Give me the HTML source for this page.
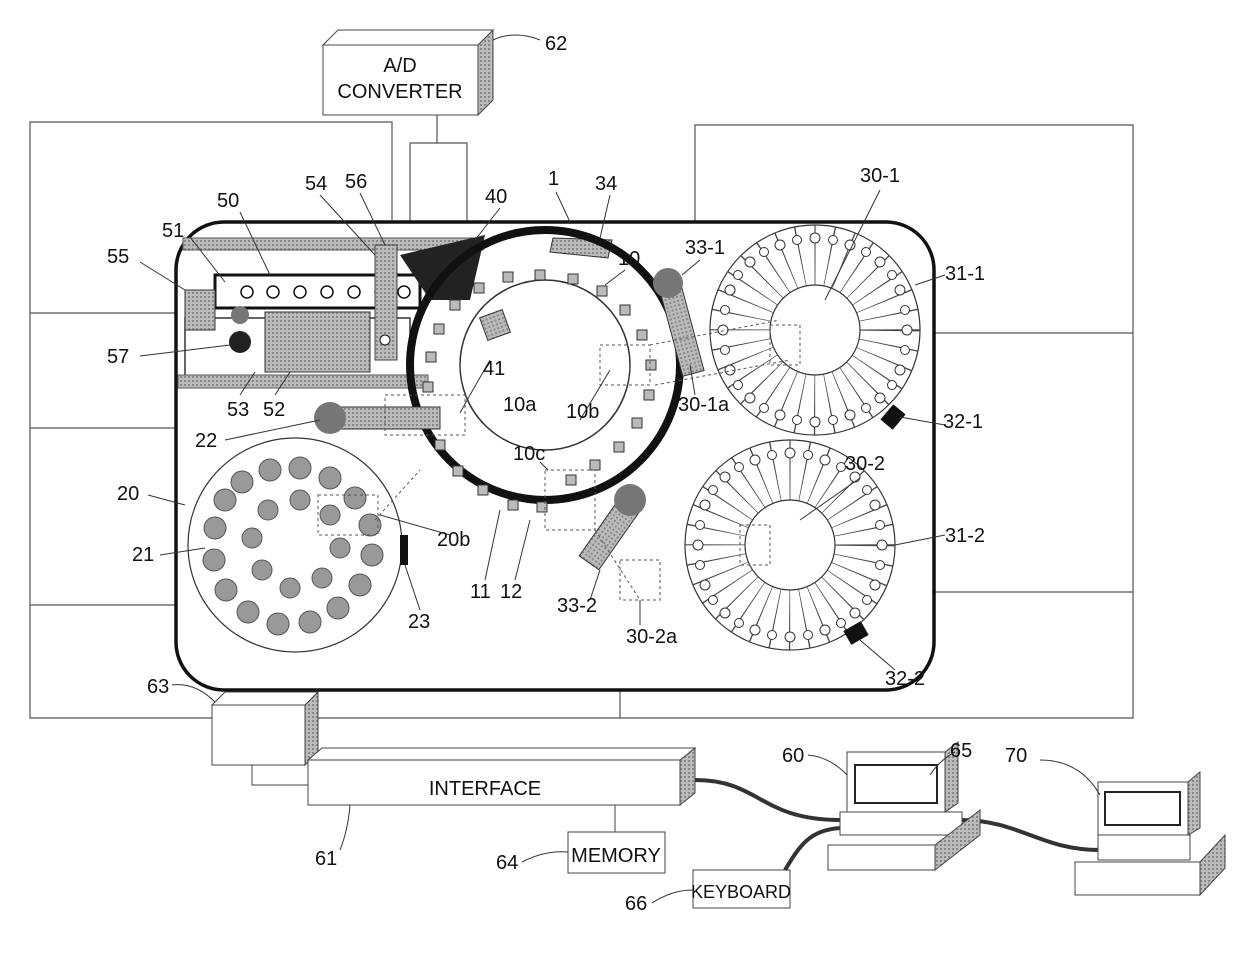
<!DOCTYPE html>
<html><head><meta charset="utf-8"><style>
body{margin:0;background:#fff}
svg{display:block}
text{font-family:"Liberation Sans",sans-serif;font-size:20px;fill:#111}
</style></head><body>
<svg width="1240" height="963" viewBox="0 0 1240 963" xmlns="http://www.w3.org/2000/svg">
<defs>
<pattern id="g" width="4" height="4" patternUnits="userSpaceOnUse"><rect width="4" height="4" fill="#bbb"/><rect width="2" height="2" fill="#888"/></pattern>
</defs>
<g stroke="#555" stroke-width="1.2" fill="none">
<path d="M392 220 V122 H30 V718 H1133 V125 H695 V222"/>
<path d="M30 313 H180 M30 428 H180 M30 605 H180 M932 333 H1133 M932 592 H1133 M620 690 V718"/>
<path d="M410 222 V143 H467 V222 M437 143 V115"/>
</g>
<!-- A/D converter -->
<path d="M478 45 L493 30 V100 L478 115 Z" fill="url(#g)" stroke="#444"/>
<path d="M323 45 L338 30 H493 L478 45 Z" fill="#fff" stroke="#444"/>
<rect x="323" y="45" width="155" height="70" fill="#fff" stroke="#444"/>
<text x="400" y="72" text-anchor="middle">A/D</text>
<text x="400" y="98" text-anchor="middle">CONVERTER</text>
<path d="M493 40 Q515 30 540 40" stroke="#333" fill="none"/>
<text x="545" y="50">62</text>
<!-- main rounded rect -->
<rect x="176" y="222" width="758" height="468" rx="48" fill="#fff" stroke="#111" stroke-width="3.5"/>
<!-- left box 50 -->
<rect x="183" y="238" width="300" height="12" fill="url(#g)" stroke="#555"/>
<rect x="215" y="275" width="205" height="33" fill="#fff" stroke="#111" stroke-width="3"/>
<g fill="#fff" stroke="#111" stroke-width="1.5"><circle cx="247" cy="292" r="6"/><circle cx="273" cy="292" r="6"/><circle cx="300" cy="292" r="6"/><circle cx="327" cy="292" r="6"/><circle cx="354" cy="292" r="6"/><circle cx="381" cy="292" r="6"/><circle cx="404" cy="292" r="6"/></g>
<rect x="185" y="318" width="225" height="60" fill="none" stroke="#333" stroke-width="1.5"/>
<rect x="265" y="312" width="105" height="60" fill="url(#g)" stroke="#333"/>
<rect x="185" y="290" width="30" height="40" fill="url(#g)" stroke="#333"/>
<circle cx="240" cy="342" r="11" fill="#222"/>
<circle cx="240" cy="315" r="9" fill="#777"/>
<rect x="178" y="375" width="250" height="13" fill="url(#g)" stroke="#555"/>
<rect x="375" y="245" width="22" height="115" fill="url(#g)" stroke="#444"/>
<circle cx="385" cy="340" r="5" fill="#fff" stroke="#111"/>
<path d="M400 255 L485 235 L470 300 L430 300 Z" fill="#222"/>
<path d="M553 238 L612 240 L608 258 L550 252 Z" fill="url(#g)" stroke="#333"/>
<!-- disk 10 -->
<circle cx="545" cy="365" r="135" fill="none" stroke="#111" stroke-width="8"/>
<circle cx="545" cy="365" r="85" fill="none" stroke="#333" stroke-width="1.5"/>
<g fill="#bbb" stroke="#333">
<rect x="535" y="270" width="10" height="10"/><rect x="568" y="274" width="10" height="10"/><rect x="597" y="286" width="10" height="10"/><rect x="620" y="305" width="10" height="10"/><rect x="637" y="330" width="10" height="10"/><rect x="646" y="360" width="10" height="10"/><rect x="644" y="390" width="10" height="10"/><rect x="632" y="418" width="10" height="10"/><rect x="614" y="442" width="10" height="10"/><rect x="590" y="460" width="10" height="10"/><rect x="566" y="475" width="10" height="10"/><rect x="537" y="502" width="10" height="10"/><rect x="508" y="500" width="10" height="10"/><rect x="478" y="485" width="10" height="10"/><rect x="453" y="466" width="10" height="10"/><rect x="435" y="440" width="10" height="10"/><rect x="425" y="412" width="10" height="10"/><rect x="423" y="382" width="10" height="10"/><rect x="426" y="352" width="10" height="10"/><rect x="434" y="324" width="10" height="10"/><rect x="450" y="300" width="10" height="10"/><rect x="474" y="283" width="10" height="10"/><rect x="503" y="272" width="10" height="10"/>
</g>
<rect x="483" y="313" width="24" height="24" fill="url(#g)" stroke="#333" transform="rotate(-20 495 325)"/>
<!-- probes -->
<rect x="330" y="407" width="110" height="22" fill="url(#g)" stroke="#333"/>
<circle cx="330" cy="418" r="16" fill="#777"/>
<rect x="670" y="280" width="22" height="95" fill="url(#g)" stroke="#333" transform="rotate(-15 681 327)"/>
<circle cx="668" cy="283" r="15" fill="#777"/>
<rect x="600" y="490" width="24" height="80" fill="url(#g)" stroke="#333" transform="rotate(35 612 530)"/>
<circle cx="630" cy="500" r="16" fill="#777"/>
<!-- disks -->
<g stroke="#333" fill="none" stroke-width="1.2">
<circle cx="815" cy="330" r="105"/><circle cx="815" cy="330" r="45"/>
<circle cx="790" cy="545" r="105"/><circle cx="790" cy="545" r="45"/>
<circle cx="295" cy="545" r="107"/>
</g>
<g stroke="#444" fill="none" stroke-width="60" stroke-dasharray="1 13.7">
<circle cx="815" cy="330" r="75"/><circle cx="790" cy="545" r="75"/>
</g>
<g id="sp" stroke="#333" stroke-width="1" fill="#fff">
<circle cx="815" cy="238" r="5"/><circle cx="850" cy="245" r="5"/><circle cx="880" cy="262" r="5"/><circle cx="900" cy="290" r="5"/><circle cx="907" cy="330" r="5"/><circle cx="900" cy="370" r="5"/><circle cx="880" cy="398" r="5"/><circle cx="850" cy="415" r="5"/><circle cx="815" cy="422" r="5"/><circle cx="780" cy="415" r="5"/><circle cx="750" cy="398" r="5"/><circle cx="730" cy="370" r="5"/><circle cx="723" cy="330" r="5"/><circle cx="730" cy="290" r="5"/><circle cx="750" cy="262" r="5"/><circle cx="780" cy="245" r="5"/>
<circle cx="833" cy="240" r="4.5"/><circle cx="866" cy="252" r="4.5"/><circle cx="892" cy="275" r="4.5"/><circle cx="905" cy="310" r="4.5"/><circle cx="905" cy="350" r="4.5"/><circle cx="892" cy="385" r="4.5"/><circle cx="866" cy="408" r="4.5"/><circle cx="833" cy="420" r="4.5"/><circle cx="797" cy="420" r="4.5"/><circle cx="764" cy="408" r="4.5"/><circle cx="738" cy="385" r="4.5"/><circle cx="725" cy="350" r="4.5"/><circle cx="725" cy="310" r="4.5"/><circle cx="738" cy="275" r="4.5"/><circle cx="764" cy="252" r="4.5"/><circle cx="797" cy="240" r="4.5"/>
</g>
<use href="#sp" transform="translate(-25 215)"/>
<g fill="#999" stroke="#555">
<circle cx="270" cy="470" r="11"/><circle cx="300" cy="468" r="11"/><circle cx="330" cy="478" r="11"/><circle cx="355" cy="498" r="11"/><circle cx="370" cy="525" r="11"/><circle cx="372" cy="555" r="11"/><circle cx="360" cy="585" r="11"/><circle cx="338" cy="608" r="11"/><circle cx="310" cy="622" r="11"/><circle cx="278" cy="624" r="11"/><circle cx="248" cy="612" r="11"/><circle cx="226" cy="590" r="11"/><circle cx="214" cy="560" r="11"/><circle cx="215" cy="528" r="11"/><circle cx="225" cy="500" r="11"/><circle cx="242" cy="482" r="11"/>
<circle cx="300" cy="500" r="10"/><circle cx="330" cy="515" r="10"/><circle cx="340" cy="548" r="10"/><circle cx="322" cy="578" r="10"/><circle cx="290" cy="588" r="10"/><circle cx="262" cy="570" r="10"/><circle cx="252" cy="538" r="10"/><circle cx="268" cy="510" r="10"/>
</g>
<rect x="400" y="535" width="8" height="30" fill="#111"/>
<rect x="885" y="407" width="16" height="20" fill="#111" transform="rotate(40 893 417)"/>
<rect x="848" y="623" width="16" height="20" fill="#111" transform="rotate(60 856 633)"/>
<!-- dashed -->
<g stroke="#555" stroke-dasharray="3 3" fill="none">
<rect x="385" y="395" width="80" height="40"/><rect x="318" y="495" width="60" height="40"/><rect x="600" y="345" width="50" height="40"/><rect x="545" y="470" width="50" height="60"/><rect x="620" y="560" width="40" height="40"/>
<rect x="770" y="325" width="30" height="40"/><rect x="740" y="525" width="30" height="40"/>
<path d="M650 345 L780 320 M655 385 L790 360 M375 520 L420 470 M595 530 L640 600"/>
</g>
<!-- leaders -->
<g stroke="#333" fill="none" stroke-width="1">
<path d="M240 212 L270 275 M190 237 L225 282 M320 195 L375 255 M360 193 L385 245 M500 208 L475 240 M556 192 L570 222 M610 195 L600 238 M880 190 L825 300 M945 275 L915 285 M700 260 L682 275 M625 270 L605 285 M140 262 L185 290 M140 356 L230 345 M240 395 L255 372 M275 395 L290 372 M225 440 L320 420 M460 413 L470 395 L490 360 M580 420 L610 370 M695 395 L690 365 M945 425 L900 417 M540 462 L548 470 M860 478 L800 520 M148 495 L185 505 M160 555 L205 548 M450 535 L380 515 M945 535 L895 545 M485 580 L500 510 M515 580 L530 520 M420 610 L405 565 M590 600 L600 570 M640 625 L640 600 M895 670 L860 640"/>
</g>
<!-- labels -->
<g>
<text x="217" y="207">50</text><text x="162" y="237">51</text><text x="305" y="190">54</text><text x="345" y="188">56</text><text x="485" y="203">40</text><text x="548" y="185">1</text><text x="595" y="190">34</text>
<text x="860" y="182">30-1</text><text x="945" y="280">31-1</text><text x="685" y="254">33-1</text><text x="618" y="265">10</text>
<text x="107" y="263">55</text><text x="107" y="363">57</text><text x="227" y="416">53</text><text x="263" y="416">52</text>
<text x="483" y="375">41</text><text x="503" y="411">10a</text><text x="566" y="418">10b</text><text x="678" y="411">30-1a</text>
<text x="195" y="447">22</text><text x="943" y="428">32-1</text><text x="513" y="460">10c</text><text x="845" y="470">30-2</text>
<text x="117" y="500">20</text><text x="437" y="546">20b</text><text x="945" y="542">31-2</text><text x="132" y="561">21</text>
<text x="470" y="598">11</text><text x="500" y="598">12</text><text x="408" y="628">23</text><text x="557" y="612">33-2</text><text x="626" y="643">30-2a</text><text x="885" y="685">32-2</text>
</g>
<!-- bottom -->
<path d="M305 705 L318 692 V752 L305 765 Z" fill="url(#g)" stroke="#444"/>
<path d="M212 705 L225 692 H318 L305 705 Z" fill="#fff" stroke="#444"/>
<rect x="212" y="705" width="93" height="60" fill="#fff" stroke="#444"/>
<text x="147" y="693">63</text>
<path d="M172 685 Q195 682 215 702" stroke="#333" fill="none"/>
<path d="M252 765 V785 H308" stroke="#444" fill="none"/>
<path d="M680 760 L695 748 V793 L680 805 Z" fill="url(#g)" stroke="#444"/>
<path d="M308 760 L322 748 H695 L680 760 Z" fill="#fff" stroke="#444"/>
<rect x="308" y="760" width="372" height="45" fill="#fff" stroke="#444"/>
<text x="485" y="795" text-anchor="middle">INTERFACE</text>
<text x="315" y="865">61</text>
<path d="M340 850 Q348 830 350 805" stroke="#333" fill="none"/>
<path d="M615 805 V832" stroke="#444"/>
<rect x="568" y="832" width="97" height="41" fill="#fff" stroke="#444"/>
<text x="616" y="862" text-anchor="middle">MEMORY</text><text x="496" y="869">64</text>
<path d="M522 862 Q545 850 568 852" stroke="#333" fill="none"/>
<rect x="693" y="870" width="97" height="38" fill="#fff" stroke="#444"/>
<text x="741" y="898" text-anchor="middle" style="font-size:18px">KEYBOARD</text><text x="625" y="910">66</text>
<path d="M652 903 Q672 890 693 890" stroke="#333" fill="none"/>
<g stroke="#333" stroke-width="4" fill="none"><path d="M695 780 C760 780 760 820 840 820"/><path d="M785 870 C800 845 810 830 840 828"/><path d="M960 820 C1020 820 1040 850 1100 850"/></g>
<!-- computer 60 -->
<path d="M847 752 H945 V812 H847 Z" fill="#fff" stroke="#444"/>
<rect x="855" y="765" width="82" height="38" fill="#fff" stroke="#222" stroke-width="2"/>
<path d="M945 752 L958 742 V803 L945 812 Z" fill="url(#g)" stroke="#444"/>
<path d="M840 812 H962 V835 H840 Z" fill="#fff" stroke="#444"/>
<path d="M828 845 H935 V870 H828 Z" fill="#fff" stroke="#444"/><path d="M935 845 L980 810 V835 L935 870 Z" fill="url(#g)" stroke="#444"/>
<text x="782" y="762">60</text><text x="950" y="757">65</text>
<path d="M808 755 Q830 757 847 775" stroke="#333" fill="none"/>
<path d="M955 752 Q940 760 930 775" stroke="#333" fill="none"/>
<!-- computer 70 -->
<path d="M1098 782 H1188 V835 H1098 Z" fill="#fff" stroke="#444"/>
<rect x="1105" y="792" width="75" height="33" fill="#fff" stroke="#222" stroke-width="2"/>
<path d="M1188 782 L1200 772 V828 L1188 835 Z" fill="url(#g)" stroke="#444"/>
<path d="M1075 862 H1200 V895 H1075 Z" fill="#fff" stroke="#444"/><path d="M1200 862 L1225 835 V868 L1200 895 Z" fill="url(#g)" stroke="#444"/>
<rect x="1098" y="835" width="92" height="25" fill="#fff" stroke="#444"/>
<text x="1005" y="762">70</text>
<path d="M1040 760 Q1080 760 1100 795" stroke="#333" fill="none"/>
</svg>
</body></html>
